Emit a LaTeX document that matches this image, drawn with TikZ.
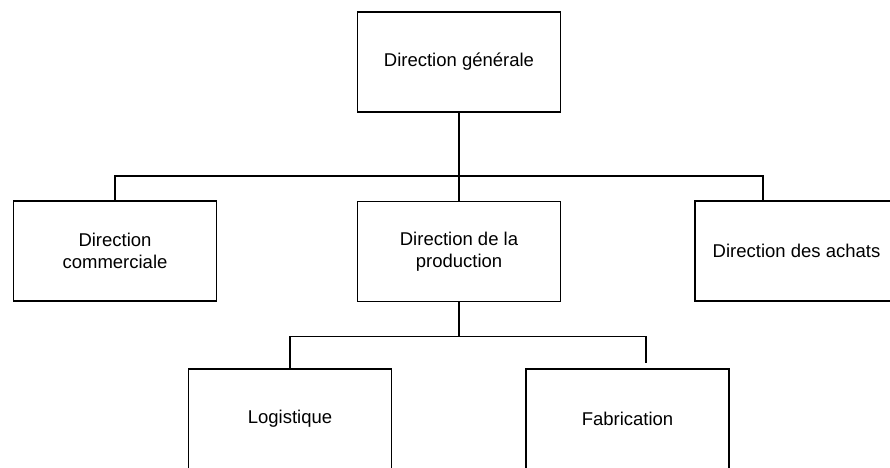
\documentclass[tikz,border=0pt]{standalone}
\usepackage{fontspec}
\setmainfont{Liberation Sans}
\usetikzlibrary{calc}
\begin{document}
\begin{tikzpicture}[x=1pt,y=-1pt,
  unit/.style={draw, line width=1.9pt, rectangle, minimum width=203pt,
    minimum height=100pt, inner sep=0pt, outer sep=0pt, align=center,
    font=\fontsize{18.5}{22.5}\selectfont},
  link/.style={line width=1.9pt}]
  \clip (0,0) rectangle (890,467);
  \fill[white] (0,0) rectangle (890,467);

  % organisation chart boxes
  \node[unit] (dg)   at (459,62)    {Direction générale};
  \node[unit] (com)  at (115,251)   {Direction\\commerciale};
  \node[unit] (prod) at (459,251.5) {Direction de la\\production};
  \node[unit] (ach)  at (796.5,251) {Direction des achats};
  \node[unit] (log)  at (290,419)   {Logistique};
  \node[unit] (fab)  at (627.5,419) {Fabrication};

  % first level of the hierarchy
  \draw[link] (dg.south) -- ++(0,64) coordinate (j1);
  \coordinate (achtop) at ($(ach.north)+(-33.5,0)$);
  \draw[link] (com.north) |- (j1) -| (achtop);
  \draw[link] (j1) -- (prod.north);

  % second level below production
  \draw[link] (prod.south) -- ++(0,35) coordinate (j2);
  \coordinate (fabend) at ($(fab.north)+(18.5,-6)$);
  \draw[link] (log.north) |- (j2) -| (fabend);
\end{tikzpicture}
\end{document}
